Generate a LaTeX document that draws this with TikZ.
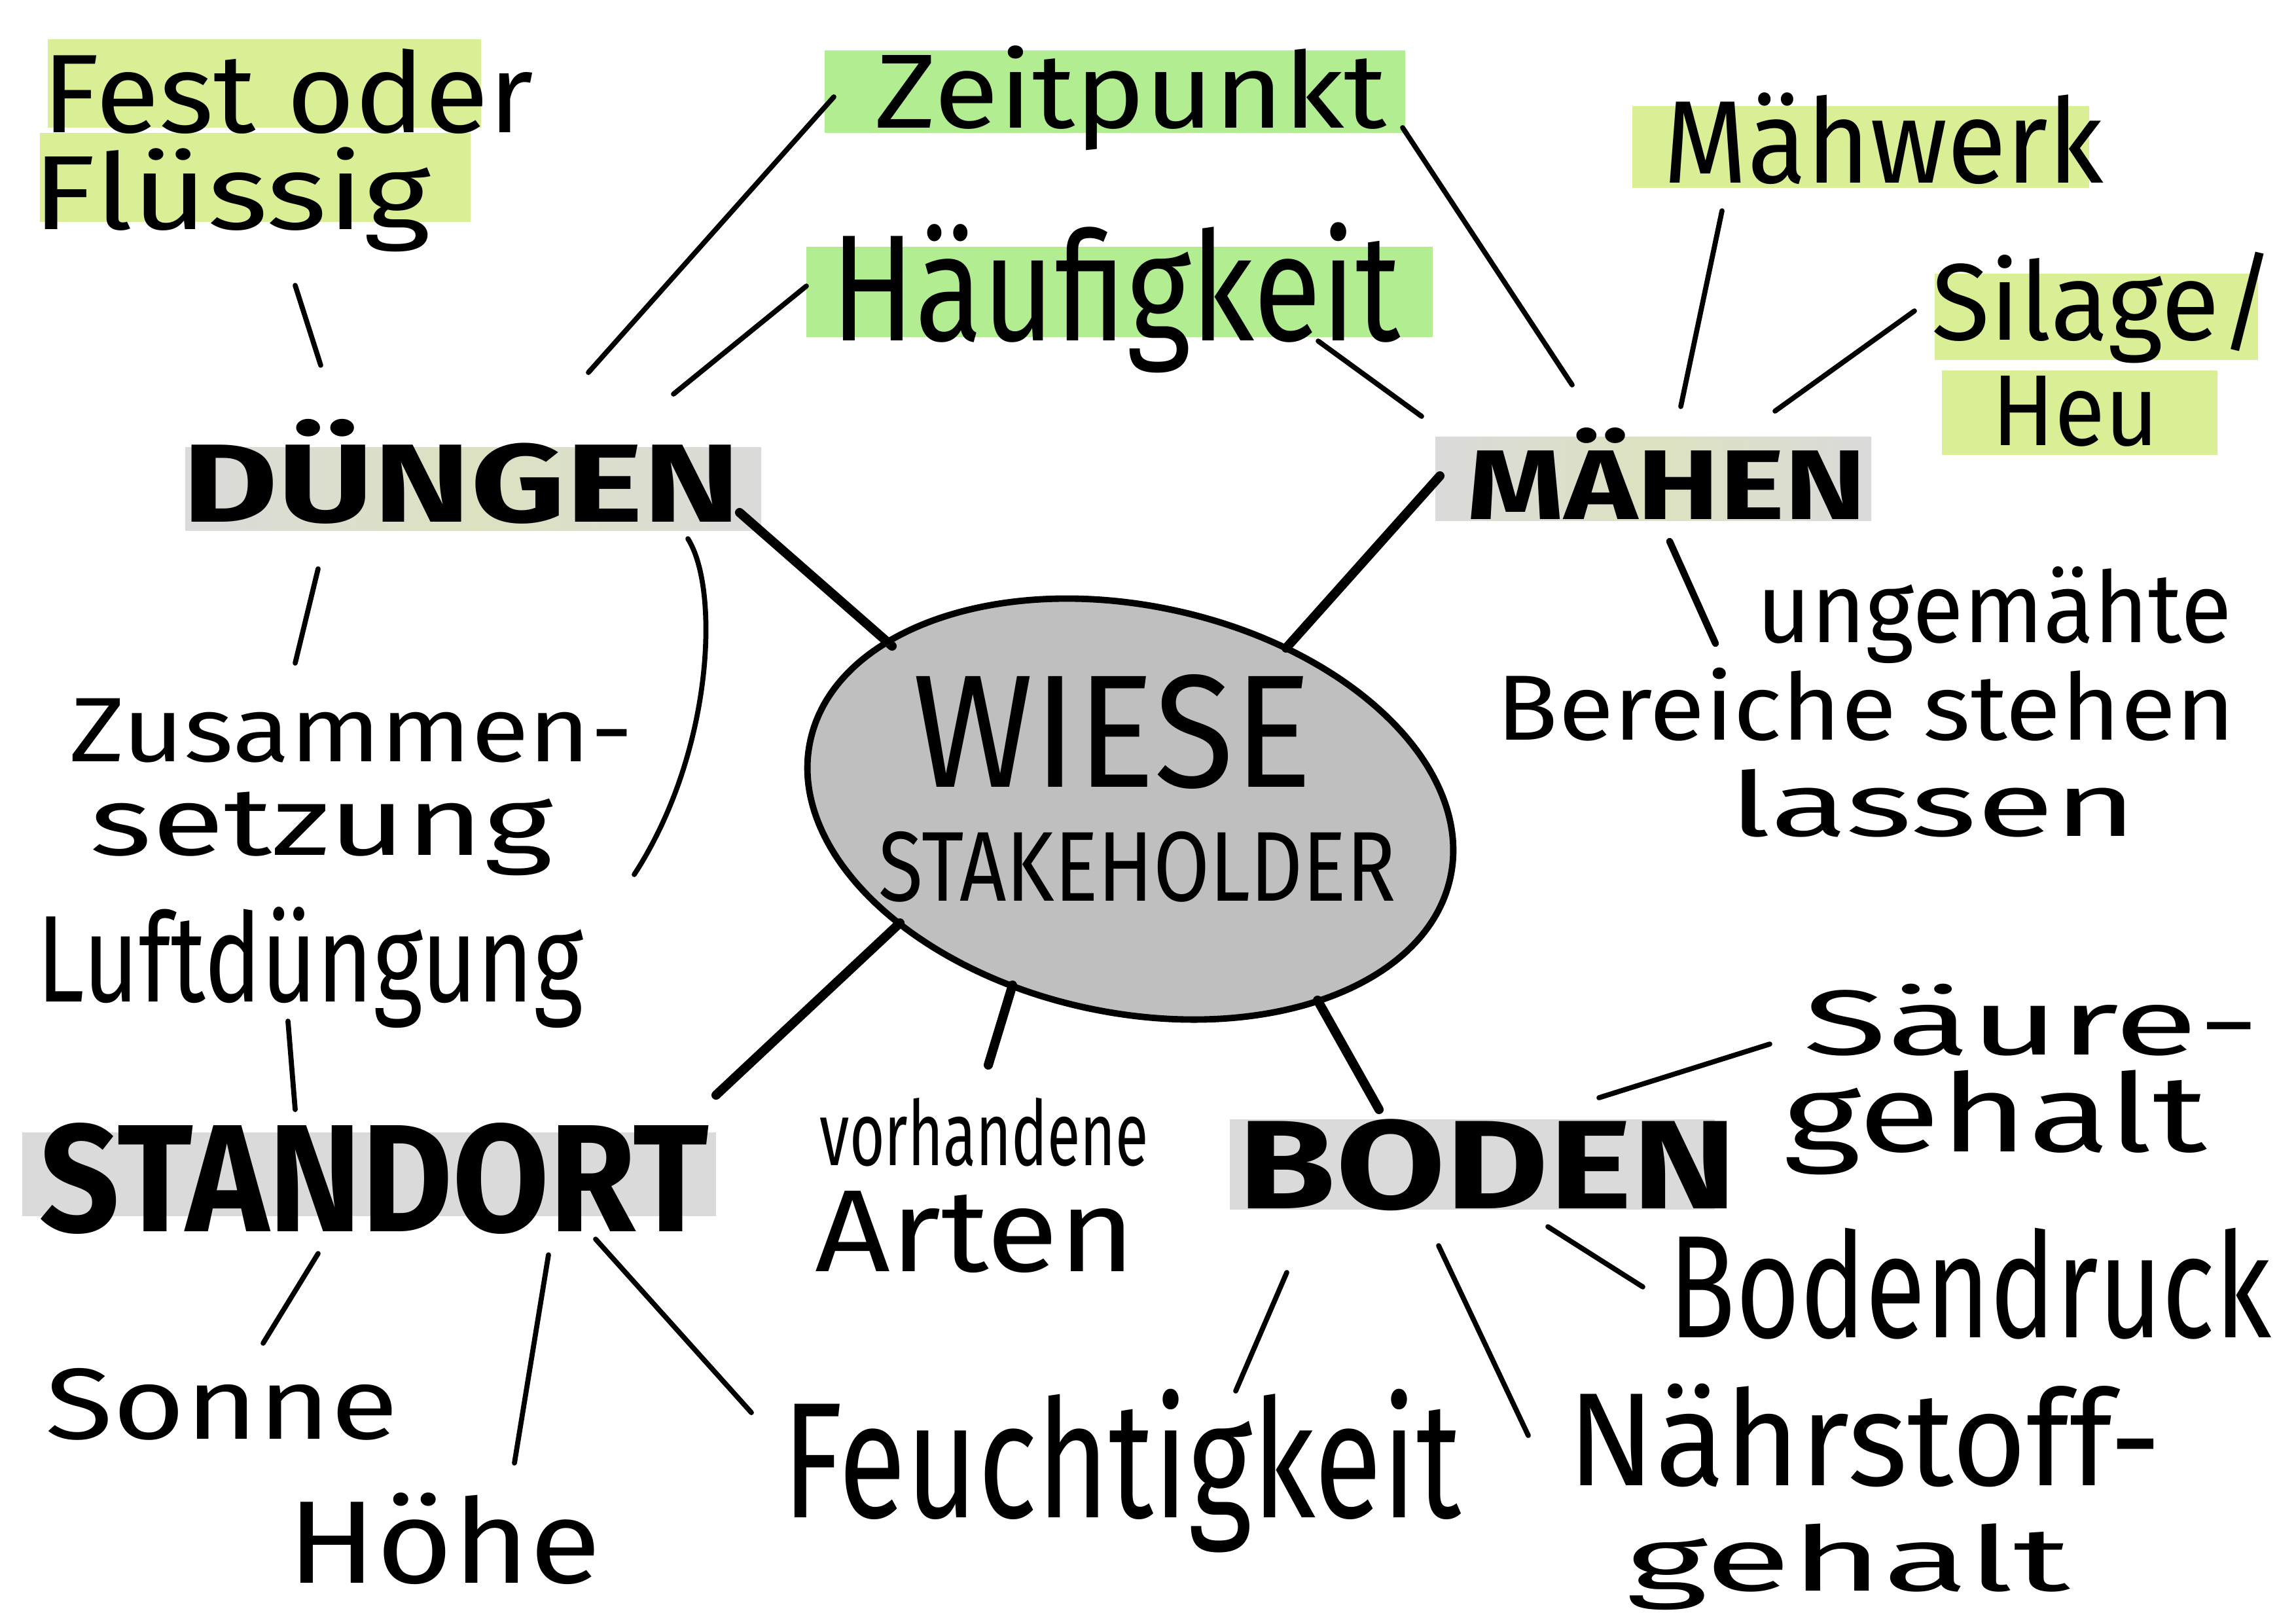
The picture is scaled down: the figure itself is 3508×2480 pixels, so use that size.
\documentclass[tikz,border=0pt]{standalone}
\usepackage{fontspec}
\setmainfont{Fira Sans}
\usepackage{graphicx}
\usetikzlibrary{shapes.geometric}
\newlength{\pxu}\setlength{\pxu}{0.01cm}
\newcommand{\fitt}[3]{\resizebox*{#1\pxu}{#2\pxu}{#3}}
\definecolor{lgreen}{HTML}{DAEE96}
\definecolor{mgreen}{HTML}{B2EE91}
\definecolor{lgray}{HTML}{DADADA}
\definecolor{tgray}{HTML}{DCE2C0}
\definecolor{egray}{HTML}{BFBFBF}
\begin{document}
\begin{tikzpicture}[x=0.01cm,y=-0.01cm,
  thinln/.style={line width=2.2pt,line cap=round},
  midln/.style={line width=3pt,line cap=round},
  thickln/.style={line width=4pt,line cap=round},
  lbl/.style={inner sep=0pt,outer sep=0pt},
  hlyg/.style={fill=lgreen,draw=none},
  hlg/.style={fill=mgreen,draw=none},
  hlgray/.style={fill=lgray,draw=none},
  hltint/.style={left color=lgray,right color=lgray,middle color=tgray,draw=none}]
\useasboundingbox (0,0) rectangle (3508,2480);
\fill[white] (0,0) rectangle (3508,2480);

% highlight boxes
\path[hlyg] (73,60) rectangle (735,195);
\path[hlyg] (61,203) rectangle (719,339);
\path[hlg] (1260,77) rectangle (2147,203);
\path[hlg] (1232,377) rectangle (2189,515);
\path[hlyg] (2494,162) rectangle (3192,287);
\path[hlyg] (2956,418) rectangle (3450,550);
\path[hlyg] (2967,566) rectangle (3388,695);
\path[hltint] (283,683) rectangle (1163,810);
\path[hltint] (2193,667) rectangle (2859,795);
\path[hlgray] (34,1730) rectangle (1094,1858);
\path[hlgray] (1879,1710) rectangle (2620,1848);

% central ellipse
\node[ellipse,draw,line width=2.8pt,fill=egray,minimum width=1000\pxu,minimum height=622\pxu,inner sep=0pt,rotate=-12] (wiese) at (1727,1236) {};
\node[lbl] (wiesetxt) at (1700,1118) {\fitt{610}{175}{WIESE}};
\node[lbl] (stake) at (1738,1324) {\fitt{790}{108}{STAKEHOLDER}};

% category labels
\node[lbl] (duengen) at (705,720) {\fitt{853}{160}{\bfseries DÜNGEN}};
\node[lbl] (maehen) at (2547,723) {\fitt{610}{140}{\bfseries MÄHEN}};
\node[lbl] (standort) at (572,1800) {\fitt{1022}{170}{\bfseries STANDORT}};
\node[lbl] (boden) at (2273,1780) {\fitt{762}{140}{\bfseries BODEN}};

% leaf labels
\node[lbl] (fest) at (440,140) {\fitt{750}{130}{Fest oder}};
\node[lbl] (fluessig) at (354,305) {\fitt{608}{160}{Flüssig}};
\node[lbl] (zeit) at (1728,150) {\fitt{782}{160}{Zeitpunkt}};
\node[lbl] (haeuf) at (1705,455) {\fitt{870}{230}{Häufigkeit}};
\node[lbl] (maehwerk) at (2878,212) {\fitt{672}{140}{Mähwerk}};
\node[lbl] (silage) at (3214,470) {\fitt{524}{170}{Silage/}};
\node[lbl] (heu) at (3171,628) {\fitt{255}{108}{Heu}};
\node[lbl] (zus) at (537,1116) {\fitt{861}{98}{Zusammen-}};
\node[lbl] (setz) at (491,1274) {\fitt{707}{128}{setzung}};
\node[lbl] (luft) at (474,1478) {\fitt{834}{185}{Luftdüngung}};
\node[lbl] (sonne) at (339,2145) {\fitt{539}{110}{Sonne}};
\node[lbl] (hoehe) at (679,2351) {\fitt{478}{140}{Höhe}};
\node[lbl] (feucht) at (1714,2247) {\fitt{1037}{250}{Feuchtigkeit}};
\node[lbl] (vorh) at (1504,1730) {\fitt{502}{105}{vorhandene}};
\node[lbl] (arten) at (1490,1882) {\fitt{489}{125}{Arten}};
\node[lbl] (saeure) at (3104,1558) {\fitt{697}{110}{Säure-}};
\node[lbl] (gehaltA) at (3048,1715) {\fitt{647}{160}{gehalt}};
\node[lbl] (bodendr) at (3010,1961) {\fitt{920}{170}{Bodendruck}};
\node[lbl] (naehr) at (2849,2193) {\fitt{906}{158}{Nährstoff-}};
\node[lbl] (gehaltB) at (2824,2394) {\fitt{678}{132}{gehalt}};
\node[lbl] (ungem) at (3047,940) {\fitt{725}{148}{ungemähte}};
\node[lbl] (bereiche) at (2851,1076) {\fitt{1128}{112}{Bereiche stehen}};
\node[lbl] (lassen) at (2954,1227) {\fitt{622}{104}{lassen}};

% connector end points
\coordinate (dA) at (1130,783);  \coordinate (eA) at (1363,987);
\coordinate (mA) at (2200,727);  \coordinate (eB) at (1965,990);
\coordinate (sA) at (1094,1673); \coordinate (eC) at (1375,1410);
\coordinate (vA) at (1510,1627); \coordinate (eD) at (1547,1505);
\coordinate (bA) at (2107,1695); \coordinate (eE) at (2013,1528);

\coordinate (f1) at (451,436);   \coordinate (f2) at (490,558);
\coordinate (z1) at (1274,148);  \coordinate (z2) at (899,569);
\coordinate (h1) at (1232,437);  \coordinate (h2) at (1029,602);
\coordinate (z3) at (2143,195);  \coordinate (z4) at (2402,588);
\coordinate (h3) at (2014,521);  \coordinate (h4) at (2172,636);
\coordinate (w1) at (2631,322);  \coordinate (w2) at (2568,621);
\coordinate (si1) at (2925,475); \coordinate (si2) at (2712,628);
\coordinate (u1) at (2551,827);  \coordinate (u2) at (2621,983);
\coordinate (zs1) at (486,869);  \coordinate (zs2) at (451,1013);
\coordinate (lc1) at (1051,823); \coordinate (lc2) at (969,1336);
\coordinate (ls1) at (440,1560); \coordinate (ls2) at (451,1695);
\coordinate (so1) at (486,1915); \coordinate (so2) at (402,2052);
\coordinate (ho1) at (838,1917); \coordinate (ho2) at (786,2235);
\coordinate (fe1) at (910,1893); \coordinate (fe2) at (1148,2158);
\coordinate (fe3) at (1966,1944); \coordinate (fe4) at (1888,2125);
\coordinate (na1) at (2198,1903); \coordinate (na2) at (2335,2193);
\coordinate (bd1) at (2365,1874); \coordinate (bd2) at (2510,1966);
\coordinate (sa1) at (2443,1677); \coordinate (sa2) at (2704,1595);

% thick connectors to the centre
\draw[thickln] (dA) -- (eA);
\draw[thickln] (mA) -- (eB);
\draw[thickln] (sA) -- (eC);
\draw[thickln] (vA) -- (eD);
\draw[thickln] (bA) -- (eE);

% thin connectors
\draw[thinln] (f1) -- (f2);
\draw[thinln] (z1) -- (z2);
\draw[thinln] (h1) -- (h2);
\draw[thinln] (z3) -- (z4);
\draw[thinln] (h3) -- (h4);
\draw[thinln] (w1) -- (w2);
\draw[thinln] (si1) -- (si2);
\draw[midln] (u1) -- (u2);
\draw[thinln] (zs1) -- (zs2);
\draw[thinln] (lc1) .. controls (1100,900) and (1090,1150) .. (lc2);
\draw[thinln] (ls1) -- (ls2);
\draw[thinln] (so1) -- (so2);
\draw[thinln] (ho1) -- (ho2);
\draw[thinln] (fe1) -- (fe2);
\draw[thinln] (fe3) -- (fe4);
\draw[thinln] (na1) -- (na2);
\draw[thinln] (bd1) -- (bd2);
\draw[thinln] (sa1) -- (sa2);
\end{tikzpicture}
\end{document}
